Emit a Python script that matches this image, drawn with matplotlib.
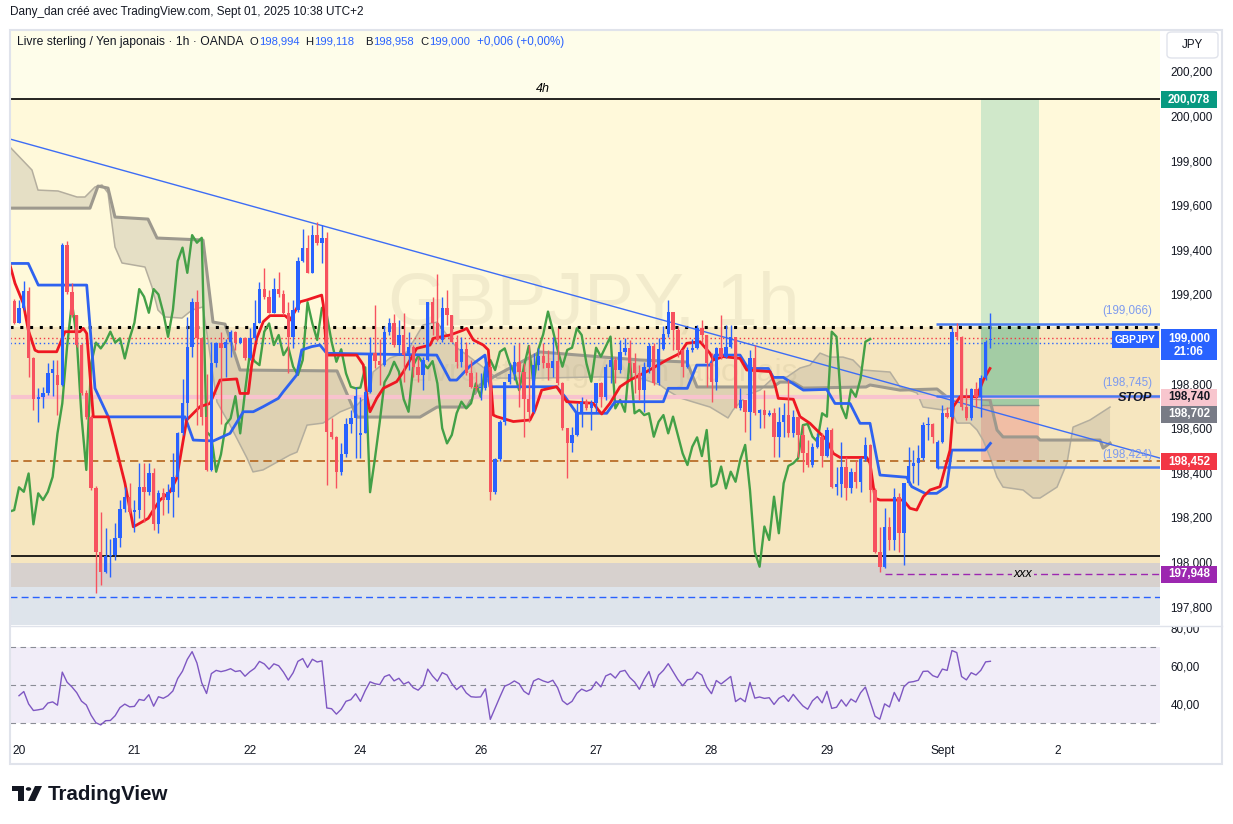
import numpy as np
import matplotlib
matplotlib.use("Agg")
import matplotlib.pyplot as plt
from matplotlib.patches import Rectangle, FancyBboxPatch, Polygon, Circle
from matplotlib.lines import Line2D

plt.rcParams['font.family'] = ['Liberation Sans', 'DejaVu Sans']

# ---------------- data (bar index: 0 = Aug 20 00:00, 1h bars) ----------------
FIRST_BAR = -1
opens = [
    199.170, 199.073, 199.137, 199.215, 198.916, 198.729, 198.741, 198.756, 198.846, 198.840,
    198.793, 199.421, 199.212, 199.107, 198.973, 198.756, 198.651, 198.330, 198.046, 197.956,
    198.027, 198.031, 198.106, 198.236, 198.293, 198.226, 198.233, 198.335, 198.315, 198.397,
    198.169, 198.308, 198.278, 198.315, 198.382, 198.577, 198.711, 198.965, 199.167, 199.003,
    198.651, 198.413, 198.891, 198.984, 198.958, 198.988, 199.033, 198.984, 199.003, 198.913,
    199.003, 199.073, 199.224, 199.190, 199.118, 199.224, 199.200, 199.118, 199.010, 199.130,
    199.350, 199.410, 199.297, 199.466, 199.432, 199.454, 198.584, 198.562, 198.405, 198.483,
    198.617, 198.644, 198.570, 198.577, 198.764, 198.936, 198.900, 198.883, 199.033, 199.070,
    198.973, 199.018, 198.928, 198.963, 198.876, 198.839, 198.906, 199.165, 199.070, 198.996,
    199.140, 199.108, 198.988, 198.898, 198.954, 198.846, 198.786, 198.779, 198.782, 198.873,
    198.313, 198.462, 198.626, 198.806, 198.843, 198.898, 198.854, 198.730, 198.674, 198.883,
    198.924, 198.891, 198.869, 198.901, 198.801, 198.600, 198.532, 198.570, 198.667, 198.719,
    198.689, 198.712, 198.801, 198.741, 198.876, 198.906, 198.861, 198.943, 198.958, 198.891,
    198.846, 198.771, 198.876, 198.969, 198.801, 198.954, 199.021, 199.123, 199.040, 198.951,
    198.876, 198.951, 198.961, 199.048, 199.018, 198.891, 198.809, 198.961, 198.921, 198.966,
    199.011, 198.689, 198.727, 198.674, 198.913, 198.667, 198.682, 198.659, 198.667, 198.562,
    198.629, 198.659, 198.577, 198.652, 198.569, 198.487, 198.435, 198.517, 198.559, 198.475,
    198.592, 198.338, 198.350, 198.428, 198.330, 198.405, 198.360, 198.460, 198.525, 198.323,
    198.046, 197.979, 198.159, 198.099, 198.293, 198.129, 198.353, 198.431, 198.443, 198.465,
    198.614, 198.619, 198.420, 198.540, 198.667, 198.652, 199.033, 199.010, 198.697, 198.645,
    198.774, 198.741, 198.824, 198.994]
highs = [
    199.178, 199.175, 199.261, 199.234, 198.920, 198.779, 198.786, 198.891, 198.906, 198.906,
    199.429, 199.439, 199.250, 199.110, 198.980, 198.770, 198.660, 198.340, 198.226, 198.151,
    198.101, 198.173, 198.278, 198.338, 198.353, 198.278, 198.442, 198.442, 198.442, 198.420,
    198.323, 198.330, 198.352, 198.487, 198.584, 198.823, 199.100, 199.182, 199.222, 199.010,
    198.845, 198.988, 198.988, 199.033, 199.000, 199.040, 199.037, 199.010, 199.010, 199.048,
    199.175, 199.257, 199.320, 199.220, 199.272, 199.302, 199.220, 199.167, 199.175, 199.369,
    199.492, 199.466, 199.511, 199.526, 199.511, 199.480, 198.644, 198.566, 198.532, 198.644,
    198.682, 198.786, 198.740, 198.770, 199.010, 199.152, 199.000, 199.060, 199.093, 199.112,
    199.085, 199.115, 199.033, 198.973, 198.921, 198.921, 199.165, 199.190, 199.291, 199.190,
    199.220, 199.110, 199.018, 199.011, 198.988, 198.906, 198.850, 198.846, 198.906, 198.891,
    198.465, 198.637, 198.806, 198.891, 198.973, 198.981, 198.891, 198.973, 198.936, 198.958,
    198.981, 198.951, 199.011, 199.048, 198.806, 198.600, 198.607, 198.712, 198.741, 198.730,
    198.727, 198.801, 198.809, 198.890, 198.921, 198.921, 198.996, 199.003, 198.996, 198.936,
    198.883, 198.898, 198.981, 198.981, 199.003, 199.058, 199.175, 199.123, 199.055, 198.955,
    198.966, 199.000, 199.063, 199.085, 199.020, 198.936, 198.966, 199.108, 199.063, 199.063,
    199.011, 198.779, 198.727, 198.951, 198.973, 198.685, 198.771, 198.680, 198.690, 198.697,
    198.712, 198.816, 198.682, 198.652, 198.614, 198.547, 198.532, 198.577, 198.577, 198.607,
    198.600, 198.428, 198.540, 198.470, 198.420, 198.457, 198.472, 198.562, 198.530, 198.330,
    198.159, 198.240, 198.203, 198.330, 198.308, 198.353, 198.517, 198.502, 198.525, 198.629,
    198.652, 198.622, 198.545, 198.704, 198.697, 199.055, 199.070, 199.015, 198.779, 198.779,
    198.809, 198.838, 198.995, 199.118]
lows = [
    199.067, 199.070, 199.130, 198.831, 198.681, 198.629, 198.689, 198.749, 198.744, 198.659,
    198.790, 199.200, 199.100, 198.965, 198.749, 198.640, 198.323, 197.859, 197.897, 197.949,
    197.931, 198.009, 198.068, 198.225, 198.218, 198.136, 198.196, 198.181, 198.300, 198.143,
    198.128, 198.210, 198.218, 198.203, 198.293, 198.569, 198.637, 198.920, 198.614, 198.614,
    198.410, 198.410, 198.876, 198.620, 198.830, 198.920, 198.950, 198.980, 198.905, 198.905,
    198.995, 199.070, 199.180, 199.115, 199.115, 199.190, 199.110, 198.849, 198.958, 199.120,
    199.347, 199.294, 199.294, 199.420, 199.340, 198.345, 198.550, 198.330, 198.390, 198.470,
    198.577, 198.465, 198.465, 198.577, 198.756, 198.870, 198.794, 198.880, 199.020, 198.965,
    198.930, 198.809, 198.861, 198.831, 198.809, 198.771, 198.900, 199.018, 198.990, 198.988,
    199.063, 198.988, 198.869, 198.876, 198.839, 198.779, 198.771, 198.727, 198.771, 198.278,
    198.305, 198.455, 198.614, 198.800, 198.816, 198.697, 198.562, 198.629, 198.667, 198.861,
    198.869, 198.816, 198.831, 198.795, 198.592, 198.375, 198.495, 198.565, 198.607, 198.682,
    198.592, 198.667, 198.697, 198.727, 198.801, 198.801, 198.846, 198.928, 198.831, 198.756,
    198.727, 198.674, 198.846, 198.794, 198.796, 198.950, 199.010, 198.950, 198.921, 198.831,
    198.870, 198.940, 198.955, 198.980, 198.786, 198.719, 198.771, 198.910, 198.915, 198.958,
    198.689, 198.680, 198.584, 198.547, 198.660, 198.599, 198.599, 198.655, 198.472, 198.472,
    198.562, 198.562, 198.562, 198.472, 198.405, 198.427, 198.427, 198.510, 198.427, 198.470,
    198.330, 198.300, 198.293, 198.278, 198.308, 198.330, 198.315, 198.455, 198.270, 198.039,
    197.957, 197.975, 198.054, 198.054, 198.046, 197.986, 198.345, 198.353, 198.345, 198.457,
    198.547, 198.532, 198.415, 198.535, 198.644, 198.645, 198.995, 198.682, 198.637, 198.637,
    198.697, 198.652, 198.816, 198.958]
closes = [
    199.073, 199.137, 199.215, 198.916, 198.729, 198.741, 198.756, 198.846, 198.864, 198.793,
    199.421, 199.212, 199.107, 198.973, 198.756, 198.651, 198.330, 198.046, 197.956, 198.027,
    198.031, 198.106, 198.236, 198.293, 198.226, 198.233, 198.335, 198.315, 198.397, 198.169,
    198.308, 198.278, 198.315, 198.382, 198.577, 198.711, 198.965, 199.167, 199.003, 198.651,
    198.413, 198.891, 198.984, 198.958, 198.988, 199.033, 198.984, 199.003, 198.913, 199.003,
    199.073, 199.224, 199.190, 199.118, 199.224, 199.200, 199.118, 199.010, 199.130, 199.350,
    199.410, 199.297, 199.466, 199.432, 199.454, 198.584, 198.562, 198.405, 198.483, 198.617,
    198.644, 198.744, 198.577, 198.764, 198.936, 198.900, 198.883, 199.033, 199.070, 198.973,
    199.018, 198.928, 198.963, 198.876, 198.839, 198.906, 199.165, 199.070, 198.996, 199.140,
    199.108, 198.988, 198.898, 198.954, 198.846, 198.786, 198.779, 198.782, 198.873, 198.313,
    198.462, 198.626, 198.806, 198.843, 198.898, 198.854, 198.730, 198.674, 198.883, 198.924,
    198.891, 198.869, 198.901, 198.801, 198.600, 198.532, 198.570, 198.667, 198.719, 198.689,
    198.712, 198.801, 198.741, 198.876, 198.906, 198.861, 198.943, 198.958, 198.891, 198.846,
    198.771, 198.876, 198.969, 198.801, 198.954, 199.021, 199.123, 199.040, 198.951, 198.876,
    198.951, 198.961, 199.048, 199.018, 198.891, 198.809, 198.961, 198.921, 198.966, 199.011,
    198.689, 198.727, 198.674, 198.913, 198.667, 198.682, 198.659, 198.667, 198.562, 198.629,
    198.659, 198.577, 198.652, 198.569, 198.487, 198.435, 198.517, 198.559, 198.475, 198.592,
    198.338, 198.350, 198.428, 198.330, 198.405, 198.360, 198.460, 198.525, 198.323, 198.046,
    197.979, 198.159, 198.099, 198.293, 198.129, 198.353, 198.431, 198.443, 198.465, 198.614,
    198.619, 198.562, 198.540, 198.667, 198.652, 199.033, 199.010, 198.697, 198.645, 198.774,
    198.741, 198.824, 198.988, 199.000]

# Ichimoku lines (bar position, price)
tenkan_x = [-1.87, -0.83, 0.89, 1.93, 3.33, 4.01, 7.84, 9.57, 12.68, 13.37, 14.08, 15.45, 18.57, 22.04,
            23.77, 24.47, 26.89, 27.93, 29.32, 31.40, 32.79, 34.87, 37.64, 39.72, 41.80, 45.27, 45.96,
            47.68, 48.39, 49.43, 50.80, 52.19, 55.31, 56.35, 57.75, 58.43, 59.82, 62.94, 63.28, 63.98,
            70.22, 71.60, 72.30, 72.99, 74.38, 75.75, 78.54, 79.91, 82.70, 85.47, 86.15, 89.62, 92.39,
            93.10, 94.47, 96.55, 97.59, 98.63, 99.33, 102.79, 106.26, 107.30, 108.69, 111.81, 113.89,
            119.42, 120.46, 121.17, 122.89, 124.97, 127.05, 130.53, 134.69, 137.45, 138.84, 141.61,
            143.69, 144.38, 146.45, 149.93, 151.32, 156.17, 157.21, 157.89, 161.01, 162.40, 164.48,
            167.96, 169.33, 170.73, 176.28, 176.96, 178.00, 179.04, 183.88, 185.27, 186.67, 188.04,
            189.44, 191.52, 193.60, 194.29, 195.68, 199.15, 200.52, 201.91]
tenkan_y = [199.332, 199.25, 199.16, 199.04, 198.95, 198.943, 198.943, 199.033, 199.033, 199.048, 199.025,
            198.651, 198.651, 198.353, 198.158, 198.166, 198.196, 198.233, 198.278, 198.315, 198.375,
            198.637, 198.697, 198.711, 198.816, 198.821, 198.756, 198.756, 198.883, 199.003, 199.078,
            199.105, 199.105, 199.085, 199.138, 199.167, 199.175, 199.197, 199.153, 198.928, 198.928,
            198.884, 198.749, 198.674, 198.734, 198.779, 198.809, 198.853, 198.958, 198.973, 199.003,
            199.018, 199.040, 199.048, 198.996, 198.973, 198.951, 198.659, 198.652, 198.630, 198.637,
            198.682, 198.771, 198.786, 198.719, 198.712, 198.682, 198.664, 198.712, 198.786, 198.816,
            198.854, 198.906, 198.936, 198.981, 198.988, 198.936, 198.906, 198.921, 198.913, 198.861,
            198.854, 198.794, 198.734, 198.730, 198.652, 198.622, 198.547, 198.487, 198.469, 198.469,
            198.443, 198.286, 198.278, 198.278, 198.241, 198.233, 198.293, 198.323, 198.338, 198.502,
            198.697, 198.741, 198.741, 198.816, 198.868]
kijun_x = [-1.87, 1.93, 4.01, 14.08, 15.80, 18.57, 34.52, 36.24, 40.40, 43.88, 46.64, 48.72, 50.80, 53.92,
           54.96, 57.75, 58.79, 60.87, 62.59, 63.98, 86.86, 89.62, 91.02, 93.78, 96.90, 97.94, 111.81,
           113.54, 115.97, 122.21, 123.94, 133.98, 135.02, 138.97, 140.92, 143.69, 144.73, 149.93, 151.65,
           155.81, 156.85, 158.93, 163.09, 167.96, 169.68, 172.80, 174.88, 176.96, 179.04, 184.59, 185.63,
           188.39, 190.83, 192.91, 193.95, 200.87, 202.0]
kijun_y = [199.339, 199.339, 199.242, 199.242, 198.779, 198.651, 198.651, 198.547, 198.543, 198.577, 198.674,
           198.674, 198.697, 198.734, 198.764, 198.839, 198.951, 198.966, 198.973, 198.936, 198.928, 198.816,
           198.816, 198.879, 198.928, 198.786, 198.786, 198.741, 198.667, 198.667, 198.719, 198.719, 198.779,
           198.779, 198.883, 198.883, 198.928, 198.928, 198.868, 198.868, 198.828, 198.828, 198.771, 198.774,
           198.711, 198.711, 198.622, 198.622, 198.390, 198.380, 198.338, 198.308, 198.308, 198.338, 198.502,
           198.502, 198.532]
span_a_x = [-1.87, 2.70, 3.95, 8.11, 12.06, 13.72, 15.80, 17.26, 18.51, 19.96, 21.42, 26.20, 27.66, 28.90,
            30.36, 33.89, 35.97, 38.26, 41.17, 43.88, 47.41, 48.66, 50.74, 56.35, 57.81, 59.89, 63.21, 66.75,
            70.29, 72.99, 73.61, 77.15, 80.68, 84.01, 86.92, 91.08, 93.16, 95.86, 99.40, 108.34, 120.81,
            129.13, 133.29, 134.75, 137.45, 140.15, 143.69, 145.77, 147.43, 148.47, 151.38, 154.09, 156.79,
            159.70, 162.40, 164.48, 166.56, 168.64, 171.34, 173.42, 175.50, 181.12, 183.20, 186.73, 187.98,
            192.14, 193.59, 195.05, 197.75, 199.21, 200.46, 201.91, 203.37, 204.62, 208.78, 210.86, 212.32,
            215.85, 217.93, 219.18, 222.71, 226.87]
span_a_y = [199.861, 199.758, 199.668, 199.664, 199.637, 199.637, 199.682, 199.691, 199.655, 199.413, 199.341,
            199.323, 199.233, 199.130, 199.099, 199.094, 199.130, 199.144, 198.718, 198.614, 198.466, 198.404,
            198.413, 198.480, 198.493, 198.614, 198.623, 198.673, 198.704, 198.762, 198.852, 198.915, 198.942,
            199.063, 199.076, 198.960, 198.928, 198.884, 198.825, 198.825, 198.830, 198.825, 198.794, 198.771,
            198.736, 198.718, 198.695, 198.668, 198.646, 198.682, 198.749, 198.771, 198.825, 198.830, 198.870,
            198.883, 198.937, 198.919, 198.919, 198.906, 198.861, 198.852, 198.785, 198.758, 198.695, 198.682,
            198.691, 198.623, 198.623, 198.592, 198.547, 198.471, 198.381, 198.336, 198.323, 198.287, 198.287,
            198.336, 198.444, 198.605, 198.637, 198.695]
span_b_x = [-1.87, 14.76, 16.43, 18.51, 19.96, 26.82, 28.70, 38.26, 40.34, 42.84, 45.96, 66.13, 70.29, 83.39,
            86.92, 93.16, 95.86, 99.40, 108.34, 129.13, 138.90, 140.98, 156.79, 158.24, 160.95, 163.03,
            176.13, 176.96, 183.20, 190.89, 192.97, 197.75, 201.91, 203.37, 204.62, 211.69, 212.32, 224.79,
            225.42, 226.87]
span_b_y = [199.587, 199.587, 199.686, 199.677, 199.547, 199.538, 199.453, 199.444, 199.076, 199.067, 198.861,
            198.857, 198.650, 198.650, 198.695, 198.695, 198.794, 198.839, 198.942, 198.906, 198.897, 198.785,
            198.785, 198.807, 198.807, 198.780, 198.785, 198.794, 198.771, 198.776, 198.740, 198.736, 198.727,
            198.592, 198.561, 198.561, 198.547, 198.547, 198.511, 198.533]
CHIKOU_SHIFT = 25
RSI_LEN = 14

trend_x = [-1.87, 237.26]
trend_y = [199.897, 198.466]

day_pos = [0, 24, 48, 71, 96, 120, 144, 168, 192, 216]
day_lbl = ['20', '21', '22', '24', '26', '27', '28', '29', 'Sept', '2']

LEVEL_4H = 200.078
LEVEL_DOT = 199.055
LEVEL_RED_DOT = 199.005
LEVEL_BLUE_DOT = 198.982
LEVEL_STOP = 198.740
LEVEL_BROWN = 198.452
LEVEL_BLACK = 198.027
LEVEL_XXX = 197.948
LEVEL_BLUE_DASH = 197.843
RAY_LEVELS = [199.066, 198.745, 198.424]
RAY_START = 190.7
XXX_START = 180.0
ZONE_GRAY = (197.888, 197.996)
POS_START, POS_END = 200.0, 212.1
POS_ENTRY, POS_TARGET, POS_STOP, POS_REACHED = 198.702, 200.078, 198.452, 199.055

legend_title = 'Livre sterling / Yen japonais · 1h · OANDA'
legend_ohlc = [('O', '198,994'), ('H', '199,118'), ('B', '198,958'), ('C', '199,000')]
legend_change = '+0,006 (+0,00%)'

W, H = 1233, 824
fig = plt.figure(figsize=(W / 100, H / 100), dpi=100, facecolor='white')

def fx(px):
    return px / W

def fy(py):
    return 1 - py / H

XLIM = (-1.87, 237.26)
ax = fig.add_axes([fx(10), fy(625), 1150 / W, 595 / H])
ax.set_xlim(*XLIM)
ax.set_ylim(197.7175, 200.386)
for s in ax.spines.values():
    s.set_visible(False)

# background zones
ax.axhspan(LEVEL_4H, 201, color='#FEFDEA', zorder=0, lw=0)
ax.axhspan(LEVEL_DOT, LEVEL_4H, color='#FFF9DA', zorder=0, lw=0)
ax.axhspan(ZONE_GRAY[1], LEVEL_DOT, color='#F6E6BF', zorder=0, lw=0)
ax.axhspan(ZONE_GRAY[0], ZONE_GRAY[1], color='#D7D1CE', zorder=0, lw=0)
ax.axhspan(197.0, ZONE_GRAY[0], color='#DEE4EB', zorder=0, lw=0)

# watermark
ax.text(0.5075, 0.505, 'GBPJPY, 1h', transform=ax.transAxes, ha='center', va='baseline',
        fontsize=54, color='#A09470', alpha=0.13, zorder=0.5)
ax.text(0.515, 0.41, 'Livre sterling / Yen japonais', transform=ax.transAxes, ha='center',
        va='baseline', fontsize=23, color='#A09470', alpha=0.13, zorder=0.5)

# long position tool
ax.add_patch(Rectangle((POS_START, POS_ENTRY), POS_END - POS_START, POS_TARGET - POS_ENTRY,
                       facecolor='#D0E8CA', edgecolor='none', zorder=1))
ax.add_patch(Rectangle((POS_START, POS_ENTRY), POS_END - POS_START, POS_REACHED - POS_ENTRY,
                       facecolor='#A3CCA4', edgecolor='none', zorder=1))
ax.add_patch(Rectangle((POS_START, POS_STOP), POS_END - POS_START, POS_ENTRY - POS_STOP,
                       facecolor='#F1BEA5', edgecolor='none', zorder=1))
ax.hlines(POS_ENTRY, POS_START, POS_END, color='#8C9A8C', lw=1, zorder=1.5)

# cloud
cx = list(span_b_x) + list(span_a_x)[::-1]
cy = list(span_b_y) + list(span_a_y)[::-1]
ax.fill(cx, cy, color='#A09C90', alpha=0.27, lw=0, zorder=2)
ax.plot(span_a_x, span_a_y, color='#B4AE9E', lw=1.1, zorder=2.1)
ax.plot(span_b_x, span_b_y, color='#9D998E', lw=2.2, zorder=2.1)

# horizontal levels
ax.axhline(LEVEL_4H, color='black', lw=1.2, zorder=3)
ax.axhline(LEVEL_DOT, color='black', lw=2.2, ls=(0, (1, 2.2)), zorder=3)
ax.axhline(LEVEL_RED_DOT, color='#F23645', lw=1, ls=(0, (1, 2)), zorder=3)
ax.axhline(LEVEL_BLUE_DOT, color='#2962FF', lw=1, ls=(0, (1, 2)), zorder=3)
ax.axhline(LEVEL_STOP, color='#F8C3CE', lw=3, zorder=3)
ax.axhline(LEVEL_BROWN, color='#B5651D', lw=1.2, ls=(0, (5, 3)), zorder=3)
ax.axhline(LEVEL_BLACK, color='black', lw=1.2, zorder=3)
ax.axhline(LEVEL_BLUE_DASH, color='#2962FF', lw=1, ls=(0, (5, 3)), zorder=3)
ax.hlines(LEVEL_XXX, XXX_START, XLIM[1], color='#9C27B0', lw=1, linestyles=(0, (5, 3)), zorder=3)
for lv in RAY_LEVELS:
    ax.hlines(lv, RAY_START, XLIM[1], color='#4A7BF0', lw=1.8, zorder=3)

# trendline
ax.plot(trend_x, trend_y, color='#3D6DF5', lw=1, zorder=3.5)

# ichimoku lines
bars = np.arange(len(closes)) + FIRST_BAR
ax.plot(bars - CHIKOU_SHIFT, closes, color='#43A047', lw=1.7, zorder=4)
ax.plot(kijun_x, kijun_y, color='#2E62F0', lw=2, zorder=4)
ax.plot(tenkan_x, tenkan_y, color='#EE1822', lw=2, zorder=4)

# candles
o = np.array(opens); h = np.array(highs); l = np.array(lows); c = np.array(closes)
up = c >= o
col = np.where(up, '#2962FF', '#F7525F')
ax.vlines(bars, l, h, colors=col, lw=1, zorder=5)
body_b = np.minimum(o, c)
body_h = np.maximum(np.abs(c - o), 0.004)
ax.bar(bars, body_h, bottom=body_b, width=0.7, color=col, edgecolor='none', zorder=5.1)

# text annotations on chart
ax.text(109.0, 200.121, '4h', ha='center', va='center', fontsize=9, fontstyle='italic', zorder=6)
ax.text(208.8, LEVEL_XXX, 'xxx', ha='center', va='center', fontsize=9, fontstyle='italic', zorder=6,
        bbox=dict(boxstyle='square,pad=0.15', fc='#D7D1CE', ec='none'))
yt = ax.get_yaxis_transform()
for lv in RAY_LEVELS:
    ax.text(0.993, lv + 0.058, '(' + f'{lv:.3f}'.replace('.', ',') + ')', transform=yt, ha='right',
            va='center', fontsize=8.4, color='#7E9BEF', zorder=6)
ax.text(0.993, LEVEL_STOP - 0.003, 'STOP', transform=yt, ha='right', va='center', fontsize=9.2,
        fontstyle='italic', fontweight='bold', color='#131722', zorder=6)

# price axis
ticks = np.round(np.arange(197.8, 200.21, 0.2), 1)
ax.set_yticks(ticks)
ax.set_yticklabels([f'{t:.3f}'.replace('.', ',') for t in ticks])
ax.yaxis.tick_right()
ax.tick_params(axis='y', length=0, pad=7.4, labelsize=8.4, labelcolor='#131722')
ax.set_xticks([])

BOX_H = 0.0762

def price_box(p, txt, fc, tc='white'):
    ax.add_patch(Rectangle((1.0009, p - BOX_H / 2), 0.0487, BOX_H, transform=yt, facecolor=fc,
                           edgecolor='none', clip_on=False, zorder=20))
    ax.text(1.0252, p, txt, transform=yt, ha='center', va='center', color=tc, fontsize=8.4,
            fontweight='bold', clip_on=False, zorder=21)

price_box(200.074, '200,078', '#089981')
price_box(198.740, '198,740', '#F8C6CE', '#131722')
price_box(198.662, '198,702', '#787B86')
price_box(198.449, '198,452', '#F23645')
price_box(197.945, '197,948', '#9C27B0')
# current price box
ax.add_patch(Rectangle((1.0009, 198.905), 0.0487, 0.140, transform=yt, facecolor='#2962FF',
                       edgecolor='none', clip_on=False, zorder=20))
ax.text(1.0252, 199.000, '199,000', transform=yt, ha='center', va='center', color='white',
        fontsize=8.4, fontweight='bold', clip_on=False, zorder=21)
ax.text(1.0252, 198.941, '21:06', transform=yt, ha='center', va='center', color='white',
        fontsize=8.4, fontweight='bold', clip_on=False, zorder=21)
ax.add_patch(Rectangle((0.9583, 198.958), 0.0405, 0.076, transform=yt, facecolor='#2962FF',
                       edgecolor='none', zorder=20))
ax.text(0.9785, 198.996, 'GBPJPY', transform=yt, ha='center', va='center', color='white',
        fontsize=7.3, fontweight='bold', zorder=21)

# ---------------- RSI pane ----------------
def rsi_wilder(vals, n):
    v = np.asarray(vals, dtype=float)
    d = np.diff(v)
    g = np.where(d > 0, d, 0.0)
    ls_ = np.where(d < 0, -d, 0.0)
    ag, al = g[:n].mean(), ls_[:n].mean()
    out = np.full(len(v), np.nan)
    for k in range(len(d)):
        ag = (ag * (n - 1) + g[k]) / n
        al = (al * (n - 1) + ls_[k]) / n
        out[k + 1] = 100.0 if al == 0 else 100 - 100 / (1 + ag / al)
    return out

rsi = rsi_wilder(closes, RSI_LEN)
rax = fig.add_axes([fx(10), fy(740), 1150 / W, 113 / H])
rax.set_xlim(*XLIM)
rax.set_ylim(21.05, 80.5)
for s in rax.spines.values():
    s.set_visible(False)
rax.axhspan(30, 70, color='#7E57C2', alpha=0.1, lw=0, zorder=0)
for lvl in (70, 50, 30):
    rax.axhline(lvl, color='#8A8D96', lw=0.8, ls=(0, (5, 4)), zorder=1)
rax.plot(bars, rsi, color='#7E57C2', lw=1, zorder=3)
rax.yaxis.tick_right()
rax.set_yticks([40, 60, 80])
rax.set_yticklabels(['40,00', '60,00', '80,00'])
rax.tick_params(axis='y', length=0, pad=7.4, labelsize=8.4, labelcolor='#131722')
rax.set_xticks(day_pos)
rax.set_xticklabels(day_lbl)
rax.tick_params(axis='x', length=0, pad=3.5, labelsize=8.6, labelcolor='#131722')

# cover upper half of RSI "80,00" like the original pane clipping
fig.add_artist(Rectangle((fx(1161), fy(626.5)), 61 / W, 13 / H, transform=fig.transFigure,
                         facecolor='white', edgecolor='none', zorder=5))

# frame and separators
fig.add_artist(Rectangle((fx(10), fy(764)), 1212 / W, 734 / H, transform=fig.transFigure,
                         fill=False, edgecolor='#E0E3EB', lw=1.5, zorder=6))
fig.add_artist(Line2D([fx(10), fx(1222)], [fy(626), fy(626)], transform=fig.transFigure,
                      color='#E0E3EB', lw=1, zorder=6))

# JPY box
fig.add_artist(FancyBboxPatch((fx(1167), fy(58)), 51 / W, 26 / H, boxstyle='round,pad=0,rounding_size=0.004',
                              transform=fig.transFigure, facecolor='white', edgecolor='#E0E3EB', lw=1, zorder=7))
fig.text(fx(1192), fy(45), 'JPY', ha='center', va='center', fontsize=8.4, color='#131722', zorder=8)

# header texts
renderer = fig.canvas.get_renderer()
fig.text(fx(10), fy(12), 'Dany_dan créé avec TradingView.com, Sept 01, 2025 10:38 UTC+2',
         fontsize=8.5, color='#131722', va='center', ha='left')

def put(xpix, txt, color, fs):
    t = fig.text(fx(xpix), fy(42), txt, fontsize=fs, color=color, va='center', ha='left')
    return t.get_window_extent(renderer).x1

put(17, legend_title, '#131722', 8.7)
group_x = [250.0, 305.0, 365.0, 420.0]
for gx, (let, num) in zip(group_x, legend_ohlc):
    xe = put(gx, let, '#131722', 8.1)
    put(xe + 0.5, num, '#2962FF', 8.1)
put(477.0, legend_change, '#2962FF', 8.4)

# TradingView logo
fig.add_artist(Polygon([(fx(12), fy(786)), (fx(24), fy(786)), (fx(24), fy(801)), (fx(17.5), fy(801)),
                        (fx(17.5), fy(791)), (fx(12), fy(791))], closed=True, transform=fig.transFigure,
                       facecolor='#131722', edgecolor='none'))
fig.add_artist(Circle((fx(28.5), fy(789)), 2.7 / W, transform=fig.transFigure, facecolor='#131722',
                      edgecolor='none'))
fig.add_artist(Polygon([(fx(28), fy(801)), (fx(35), fy(786)), (fx(42), fy(786)), (fx(35), fy(801))],
                       closed=True, transform=fig.transFigure, facecolor='#131722', edgecolor='none'))
fig.text(fx(48), fy(794.5), 'TradingView', fontsize=14.8, fontweight='bold', color='#131722',
         va='center', ha='left')

fig.savefig('out.png', dpi=100, facecolor='white')
